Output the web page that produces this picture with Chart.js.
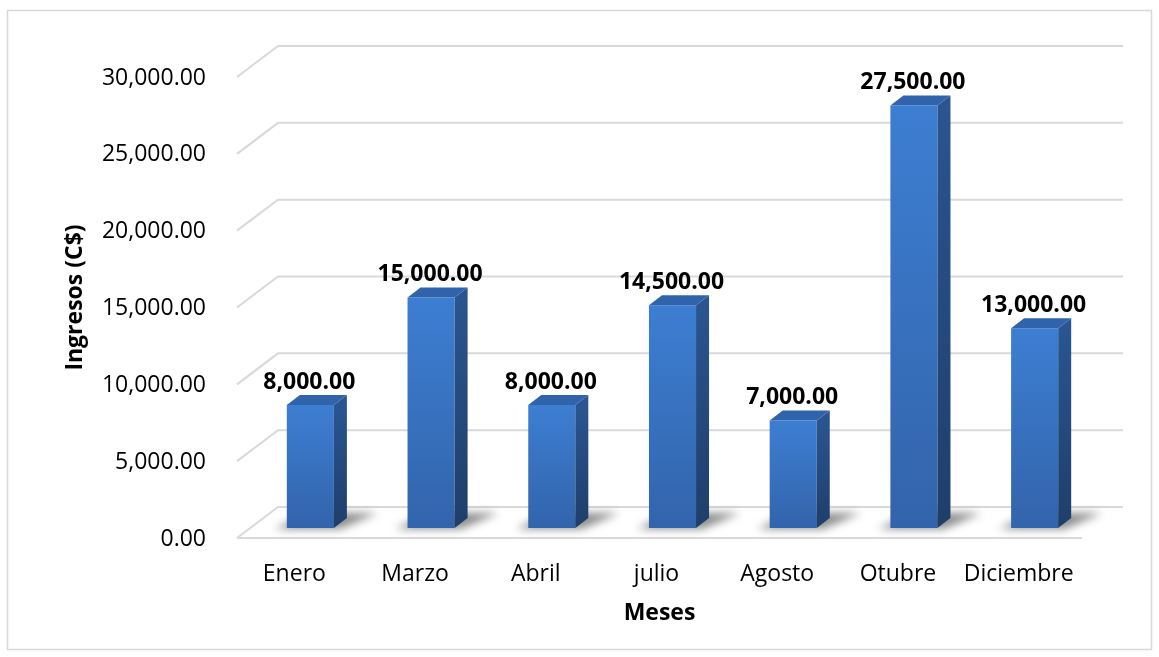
<!DOCTYPE html>
<html lang="es">
<head>
<meta charset="UTF-8">
<title>Ingresos por mes</title>
<script src="https://cdn.jsdelivr.net/npm/chart.js"></script>
<style>
  body { margin: 0; background: #fff; }
  canvas { display: block; }
</style>
</head>
<body>
<canvas id="chart" width="1159" height="657"></canvas>
<script>
const months = ['Enero', 'Marzo', 'Abril', 'julio', 'Agosto', 'Otubre', 'Diciembre'];
const ingresos = [8000, 15000, 8000, 14500, 7000, 27500, 13000];
const yTicks = [0, 5000, 10000, 15000, 20000, 25000, 30000];

const fmt = v => v.toLocaleString('en-US', { minimumFractionDigits: 2, maximumFractionDigits: 2 });

// fake oblique 3D: offsets in px from the plane the bars' front faces sit on
const BACK = { x: 28, y: -21 };   // back wall
const FRONT = { x: -13, y: 10 };  // front edge of the floor
const BAR_D = { x: 13, y: -10 };  // thickness of a bar
const FONT = '"Open Sans", sans-serif';

const fake3d = {
  id: 'fake3d',
  beforeDraw(chart) {
    const ctx = chart.ctx;
    ctx.save();
    ctx.fillStyle = '#fff';
    ctx.fillRect(0, 0, chart.width, chart.height);
    ctx.strokeStyle = '#d9d9d9';
    ctx.lineWidth = 1.5;
    ctx.strokeRect(7.5, 10.5, 1144, 639);
    ctx.restore();
  },
  beforeDatasetsDraw(chart) {
    const { ctx, chartArea: a, scales: { y } } = chart;
    ctx.save();
    ctx.strokeStyle = '#d9d9d9';
    ctx.lineWidth = 2;
    yTicks.forEach(v => {
      const py = y.getPixelForValue(v);
      ctx.beginPath();
      ctx.moveTo(a.left + FRONT.x, py + FRONT.y);
      ctx.lineTo(a.left + BACK.x, py + BACK.y);
      ctx.lineTo(a.right + BACK.x, py + BACK.y);
      ctx.stroke();
    });
    const p0 = y.getPixelForValue(0);
    ctx.beginPath();
    ctx.moveTo(a.left + FRONT.x, p0 + FRONT.y);
    ctx.lineTo(a.right + FRONT.x, p0 + FRONT.y);
    ctx.stroke();

    // soft shadows on the floor
    ctx.filter = 'blur(4px)';
    ctx.fillStyle = 'rgba(0,0,0,0.45)';
    chart.getDatasetMeta(0).data.forEach(bar => {
      const l = bar.x - bar.width / 2, r = bar.x + bar.width / 2, b = bar.base;
      ctx.beginPath();
      ctx.moveTo(l - 12, b + 1);
      ctx.lineTo(r + 6, b + 1);
      ctx.lineTo(r + 44, b - 15);
      ctx.lineTo(l + 20, b - 15);
      ctx.closePath();
      ctx.fill();
    });
    ctx.restore();
  },
  afterDatasetsDraw(chart) {
    const { ctx } = chart;
    ctx.save();
    chart.getDatasetMeta(0).data.forEach((bar, i) => {
      const l = bar.x - bar.width / 2, r = bar.x + bar.width / 2, t = bar.y, b = bar.base;
      // side face
      let g = ctx.createLinearGradient(0, t, 0, b);
      g.addColorStop(0, '#2a5590');
      g.addColorStop(1, '#1f3e6a');
      ctx.fillStyle = g;
      ctx.beginPath();
      ctx.moveTo(r, t);
      ctx.lineTo(r + BAR_D.x, t + BAR_D.y);
      ctx.lineTo(r + BAR_D.x, b + BAR_D.y);
      ctx.lineTo(r, b);
      ctx.closePath();
      ctx.fill();
      // top face
      ctx.fillStyle = '#2f64ad';
      ctx.beginPath();
      ctx.moveTo(l, t);
      ctx.lineTo(l + BAR_D.x, t + BAR_D.y);
      ctx.lineTo(r + BAR_D.x, t + BAR_D.y);
      ctx.lineTo(r, t);
      ctx.closePath();
      ctx.fill();
      // value label
      ctx.fillStyle = '#000';
      ctx.font = 'bold 23px ' + FONT;
      ctx.textAlign = 'center';
      ctx.textBaseline = 'middle';
      ctx.fillText(fmt(ingresos[i]), bar.x - 1, t - 23);
    });
    ctx.restore();
  },
  afterDraw(chart) {
    const { ctx, chartArea: a } = chart;
    ctx.save();
    ctx.fillStyle = '#000';
    ctx.font = 'bold 23px ' + FONT;
    ctx.textAlign = 'center';
    ctx.textBaseline = 'middle';
    ctx.fillText('Meses', (a.left + a.right) / 2 + FRONT.x, 613);
    ctx.restore();
  }
};

new Chart(document.getElementById('chart'), {
  type: 'bar',
  data: {
    labels: months,
    datasets: [{
      data: ingresos,
      borderWidth: 0,
      barPercentage: 0.39,
      categoryPercentage: 1,
      backgroundColor: c => {
        const chart = c.chart;
        if (!chart.chartArea || c.raw === undefined) return '#3670bd';
        const y = chart.scales.y;
        const g = chart.ctx.createLinearGradient(0, y.getPixelForValue(c.raw), 0, y.getPixelForValue(0));
        g.addColorStop(0, '#3d7ed2');
        g.addColorStop(1, '#3264ab');
        return g;
      }
    }]
  },
  options: {
    responsive: false,
    animation: false,
    layout: { padding: { top: 67, right: 64, left: 0, bottom: 0 } },
    plugins: {
      legend: { display: false },
      tooltip: { enabled: false }
    },
    scales: {
      x: {
        grid: { display: false, drawTicks: false },
        border: { display: false },
        ticks: {
          color: '#000',
          font: { family: FONT, size: 23 },
          padding: 33,
          labelOffset: -16,
          maxRotation: 0
        },
        afterFit: s => { s.height = 129; }
      },
      y: {
        min: 0,
        max: 30000,
        grid: { display: false, drawTicks: false },
        border: { display: false },
        ticks: {
          stepSize: 5000,
          color: '#000',
          font: { family: FONT, size: 23 },
          padding: 44,
          labelOffset: 11,
          callback: v => fmt(v)
        },
        title: {
          display: true,
          text: 'Ingresos (C$)',
          color: '#000',
          font: { family: FONT, size: 23, weight: 'bold' },
          padding: { top: 62, bottom: 0 }
        },
        afterFit: s => { s.width = 250; }
      }
    }
  },
  plugins: [fake3d]
});
</script>
</body>
</html>
